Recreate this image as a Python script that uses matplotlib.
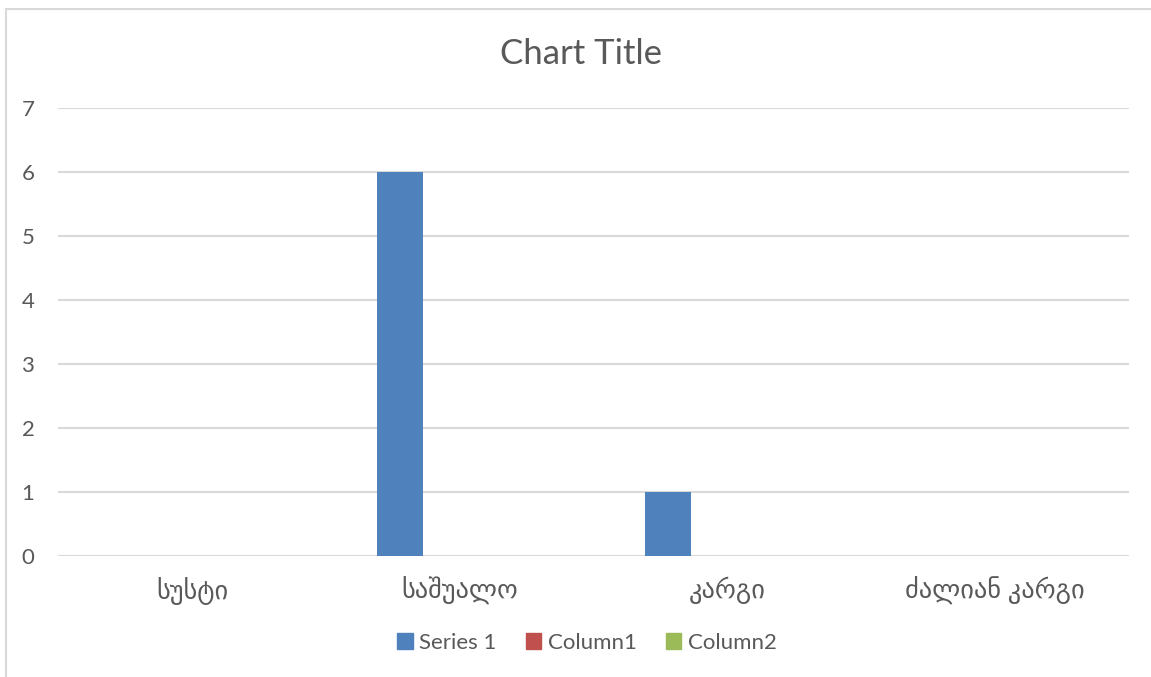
import numpy as np
import matplotlib.pyplot as plt
from matplotlib.patches import Patch, Rectangle

categories = ['სუსტი', 'საშუალო', 'კარგი', 'ძალიან კარგი']
series_names = ['Series 1', 'Column1', 'Column2']
series_1 = [0, 6, 1, 0]
column_1 = [0, 0, 0, 0]
column_2 = [0, 0, 0, 0]
colors = ['#4F81BD', '#C0504D', '#9BBB59']

fonts = ['Lato', 'DejaVu Sans']
text_color = '#595959'
plt.rcParams['font.family'] = fonts

fig = plt.figure(figsize=(11.51, 6.77), dpi=100)
W, H = 1151, 677
ax = fig.add_axes([58 / W, 1 - 556 / H, (1129 - 58) / W, (556 - 108) / H])

# outer chart border (right and bottom edges cut off in the reference)
fig.patches.append(Rectangle((6 / W, -0.5), 2, 1.5 - 9 / H, transform=fig.transFigure,
                             fill=False, edgecolor='#D9D9D9', linewidth=1.5))

x = np.arange(len(categories))
w = 0.172
off = 0.2226
for i, vals in enumerate([series_1, column_1, column_2]):
    ax.bar(x + (i - 1) * off, vals, width=w, color=colors[i], linewidth=0, zorder=3)

ax.set_xlim(-0.5, len(categories) - 0.5)
ax.set_ylim(0, 7)
ax.set_yticks(range(0, 8))
ax.yaxis.grid(True, color='#D9D9D9', linewidth=1.5, zorder=0)
ax.set_axisbelow(True)
for s in ax.spines.values():
    s.set_visible(False)
ax.tick_params(length=0, colors=text_color)
ax.tick_params(axis='y', pad=17, labelsize=16)
ax.tick_params(axis='x', pad=15, labelsize=19)
ax.set_xticks(x)
ax.set_xticklabels(categories)

fig.text(581 / W, 1 - 54 / H, 'Chart Title', ha='center', va='center',
         fontsize=25, color=text_color)

handles = [Patch(color=c, label=n) for c, n in zip(colors, series_names)]
fig.legend(handles=handles, loc='center', bbox_to_anchor=(587 / W, 1 - 643 / H),
           ncol=3, frameon=False, fontsize=16, labelcolor=text_color,
           handlelength=0.7, handleheight=0.7, handletextpad=0.3, columnspacing=1.3)

fig.savefig('out.png', dpi=100)
